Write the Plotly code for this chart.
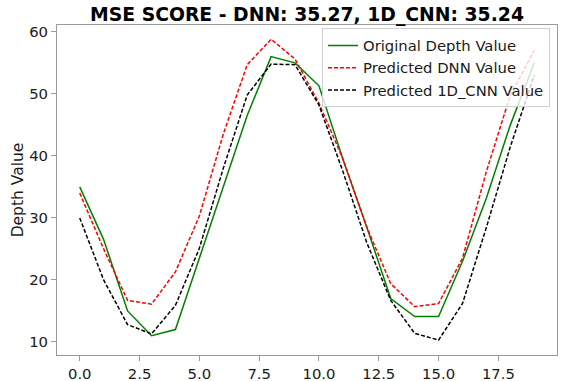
import plotly.graph_objects as go

x_index = list(range(20))
original_depth = [35.0, 26.5, 15.0, 11.0, 12.0, 23.5, 35.0, 46.5, 56.0, 55.0,
                  51.3, 39.5, 28.5, 17.0, 14.1, 14.1, 23.0, 33.2, 45.0, 55.0]
predicted_dnn = [34.0, 25.0, 16.7, 16.1, 21.3, 30.3, 43.5, 54.7, 58.8, 55.6,
                 48.5, 39.5, 28.5, 19.4, 15.7, 16.2, 23.5, 37.5, 49.8, 57.0]
predicted_cnn = [30.0, 20.0, 12.8, 11.3, 15.9, 25.1, 38.0, 49.8, 54.8, 54.7,
                 48.2, 37.5, 26.0, 16.7, 11.4, 10.3, 16.2, 28.5, 41.5, 53.0]

title_text = "MSE SCORE - DNN: 35.27, 1D_CNN: 35.24"
x_ticks = [0.0, 2.5, 5.0, 7.5, 10.0, 12.5, 15.0, 17.5]
y_ticks = [10, 20, 30, 40, 50, 60]

FONT = "DejaVu Sans"
TXT = "#1a1a1a"
SPINE = "#9a9a9a"
FS = 14.8

fig = go.Figure()
fig.add_trace(go.Scatter(x=x_index, y=original_depth, mode="lines",
                         name="Original Depth Value",
                         line=dict(color="green", width=1.5)))
fig.add_trace(go.Scatter(x=x_index, y=predicted_dnn, mode="lines",
                         name="Predicted DNN Value",
                         line=dict(color="red", width=1.5, dash="4px,2px")))
fig.add_trace(go.Scatter(x=x_index, y=predicted_cnn, mode="lines",
                         name="Predicted 1D_CNN Value",
                         line=dict(color="black", width=1.5, dash="4px,2px")))

fig.update_layout(
    width=561, height=381,
    margin=dict(l=57, r=4, t=25, b=26),
    paper_bgcolor="white", plot_bgcolor="white",
    font=dict(family=FONT, size=FS, color=TXT),
    title=dict(text="<b>" + title_text + "</b>", xref="paper", x=0.5,
               xanchor="center", yref="container", y=0.961, yanchor="middle",
               font=dict(family=FONT, size=18.8, color="black")),
    showlegend=True,
    legend=dict(x=0.986, xanchor="right", y=0.99, yanchor="top",
                bgcolor="rgba(255,255,255,0.8)", bordercolor="#d0d0d0",
                borderwidth=1, font=dict(family=FONT, size=FS, color=TXT),
                itemwidth=30),
)

fig.update_xaxes(
    range=[-0.95, 19.95], tickvals=x_ticks,
    ticktext=[f"{v:.1f}" for v in x_ticks],
    showgrid=False, zeroline=False, automargin=False,
    showline=True, linecolor=SPINE, linewidth=1, mirror=True,
    ticks="outside", ticklen=5, tickcolor=SPINE,
    tickfont=dict(family=FONT, size=FS, color=TXT),
)
fig.update_yaxes(
    range=[7.9, 61.1], tickvals=y_ticks,
    showgrid=False, zeroline=False, automargin=False,
    showline=True, linecolor=SPINE, linewidth=1, mirror=True,
    ticks="outside", ticklen=5, tickcolor=SPINE,
    tickfont=dict(family=FONT, size=FS, color=TXT),
    title=dict(text="Depth Value", standoff=1,
               font=dict(family=FONT, size=15.5, color=TXT)),
)

fig.write_html("out.html", config={"displayModeBar": False},
               post_script="document.body.style.margin='0';document.body.style.padding='0';")
